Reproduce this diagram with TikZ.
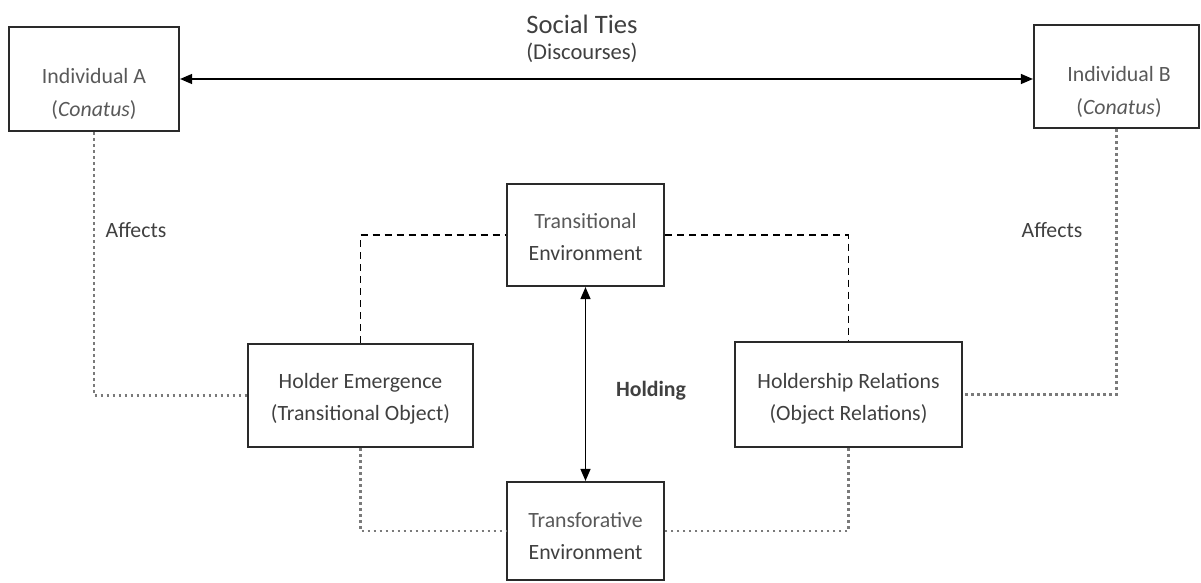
\documentclass[tikz,border=0pt]{standalone}
\usepackage{fontspec}
\setmainfont{Carlito}
\usetikzlibrary{arrows.meta}
\definecolor{txtgray}{HTML}{404040}
\definecolor{litegray}{HTML}{595959}
\definecolor{boxline}{HTML}{2A2A2A}
\definecolor{dotgray}{HTML}{7A7A7A}
\begin{document}
\begin{tikzpicture}[x=0.5pt,y=-0.5pt,
  bx/.style={draw=boxline, line width=1.1pt, inner sep=0pt},
  txt/.style={align=center, text=txtgray, font=\fontsize{10.9}{16.2}\selectfont},
  dashline/.style={black, line width=0.8pt, dash pattern=on 3.6pt off 2.4pt},
  dotline/.style={dotgray, line width=1.2pt, dash pattern=on 1.4pt off 1.6pt},
  tip/.style={line width=0.7pt, {Triangle[length=6pt,width=5pt]}-{Triangle[length=6pt,width=5pt]}}]
\useasboundingbox (0,0) rectangle (1201,583);

% индивиды
\node [bx, minimum width=170pt/2, minimum height=104pt/2] (indA) at (94,79) {};
\node [txt, text=litegray] (indAtxt) at (94,94) {Individual A\\(\textit{Conatus})};
\node [bx, minimum width=165pt/2, minimum height=103pt/2] (indB) at (1116.5,76.5) {};
\node [txt, text=litegray] (indBtxt) at (1119,92) {Individual B\\(\textit{Conatus})};

% социальные связи
\node [txt, font=\fontsize{13.3}{15}\selectfont] (ties) at (582,24) {Social Ties};
\node [txt, font=\fontsize{11.3}{15}\selectfont] (disc) at (582,53) {(Discourses)};
\draw [tip] (indA.east) -- (indA.east -| indB.west);

% среды
\node [bx, minimum width=157pt/2, minimum height=102pt/2] (trans) at (585.5,235) {};
\node [txt] (transtxt) at (585.5,237) {{\color{litegray}Transitional}\\Environment};
\node [bx, minimum width=157pt/2, minimum height=98pt/2] (transf) at (585.5,531) {};
\node [txt] (transftxt) at (585.5,536) {{\color{litegray}Transforative}\\Environment};
\draw [tip] (trans.south) -- (transf.north);
\node [txt, font=\fontsize{10.9}{13}\bfseries] (hold) at (651,391) {Holding};

% держатели
\node [bx, minimum width=225pt/2, minimum height=103pt/2] (holder) at (360.5,395.5) {};
\node [txt] (holdertxt) at (360.5,399) {Holder Emergence\\(Transitional Object)};
\node [bx, minimum width=227pt/2, minimum height=105pt/2] (holdrel) at (848.5,394.5) {};
\node [txt] (holdreltxt) at (848.5,399) {Holdership Relations\\(Object Relations)};

% пунктир
\draw [dashline] (holder.north) |- (trans.west);
\draw [dashline] (trans.east) -| (holdrel.north);

% точки
\draw [dotline] (indA.south) |- (holder.west);
\draw [dotline] (indB.south) |- (holdrel.east);
\draw [dotline] (holder.south) |- (transf.west);
\draw [dotline] (holdrel.south) |- (transf.east);
\node [txt] (affA) at (136,230) {Affects};
\node [txt] (affB) at (1052,230) {Affects};
\end{tikzpicture}
\end{document}
